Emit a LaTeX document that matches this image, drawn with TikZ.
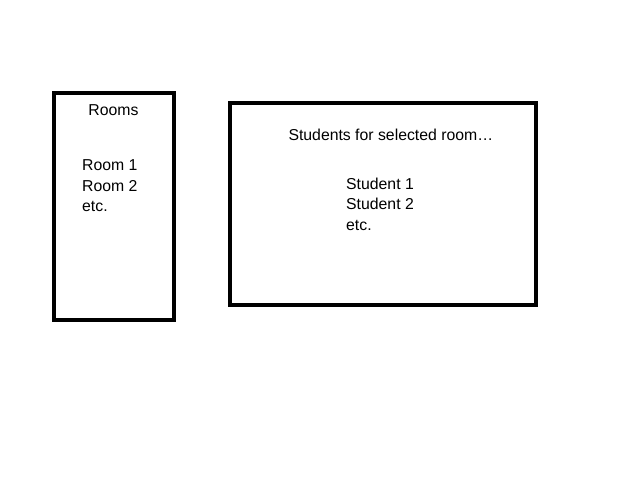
\documentclass[tikz,border=0pt]{standalone}
\usepackage{fontspec}
\setmainfont{Liberation Sans}
\begin{document}
\begin{tikzpicture}[x=1pt,y=-1pt,
  panel/.style={draw=black,line width=4pt},
  txt/.style={inner sep=0pt,anchor=base west,font=\fontsize{15.8}{20}\selectfont}]
\useasboundingbox[fill=white] (0,0) rectangle (640,480);
\draw[panel] (54,93) rectangle (174,320);
\draw[panel] (230,103) rectangle (536,305);
\node[txt,anchor=base] (rooms) at (113.5,115.7) {Rooms};
\node[txt] (r1) at (82,170.7) {Room 1};
\node[txt] (r2) at (82,191) {Room 2};
\node[txt] (r3) at (82,211.3) {etc.};
\node[txt] (st) at (288.3,140.3) {Students for selected room…};
\node[txt] (s1) at (346,189.5) {Student 1};
\node[txt] (s2) at (346,209.8) {Student 2};
\node[txt] (s3) at (346,230.1) {etc.};
\end{tikzpicture}
\end{document}
